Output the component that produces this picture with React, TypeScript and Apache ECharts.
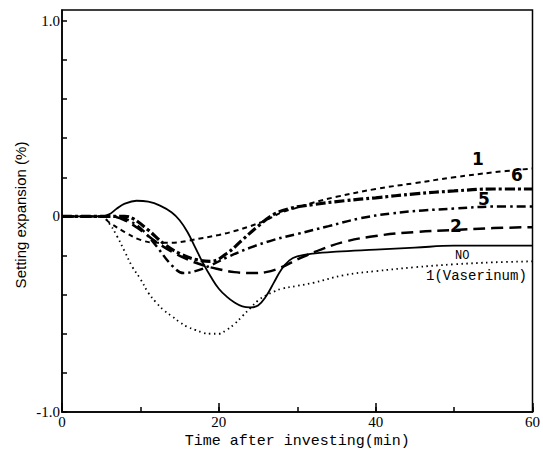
import React, { useEffect, useRef } from "react";
import * as echarts from "echarts";

const xTickLabels = ["0", "20", "40", "60"];
const yTickLabels = ["1.0", "0", "-1.0"];

const noTime = [0, 5, 6, 7, 8, 9.5, 11, 12.5, 14, 15, 16, 17, 18, 19, 20, 21, 22, 23, 24, 25, 26, 27, 28, 29, 30, 32, 35, 40, 45, 50, 55, 60];
const noValues = [0, 0, 0.01, 0.04, 0.065, 0.08, 0.075, 0.055, 0.02, -0.02, -0.08, -0.16, -0.24, -0.31, -0.37, -0.41, -0.44, -0.46, -0.465, -0.455, -0.41, -0.34, -0.27, -0.225, -0.205, -0.19, -0.18, -0.17, -0.16, -0.15, -0.15, -0.15];

const vasTime = [0, 5, 6, 7, 8, 9, 10, 11, 12, 13, 14, 15, 16, 17, 18, 19, 20, 21, 22, 23, 24, 25, 26, 27, 28, 30, 32, 36, 40, 45, 50, 55, 60];
const vasValues = [0, 0, -0.035, -0.1, -0.18, -0.26, -0.32, -0.39, -0.44, -0.48, -0.51, -0.54, -0.565, -0.58, -0.595, -0.6, -0.6, -0.58, -0.55, -0.51, -0.47, -0.43, -0.405, -0.385, -0.37, -0.355, -0.34, -0.3, -0.28, -0.26, -0.245, -0.235, -0.23];

const s1Time = [0, 5, 6, 8, 10, 12, 14, 16, 18, 20, 22, 24, 26, 28, 30, 32, 35, 40, 45, 50, 55, 60];
const s1Values = [0, 0, -0.03, -0.08, -0.12, -0.135, -0.135, -0.125, -0.11, -0.095, -0.075, -0.05, -0.02, 0.02, 0.045, 0.07, 0.1, 0.14, 0.17, 0.2, 0.225, 0.245];

const s2Time = [0, 6, 8, 10, 12, 14, 16, 18, 20, 22, 24, 26, 28, 30, 33, 36, 40, 45, 50, 55, 60];
const s2Values = [0, 0, -0.02, -0.07, -0.13, -0.18, -0.22, -0.25, -0.27, -0.285, -0.29, -0.285, -0.26, -0.22, -0.17, -0.13, -0.1, -0.08, -0.07, -0.06, -0.055];

const s5Time = [0, 7, 8, 10, 12, 14, 15.5, 17, 19, 21, 24, 27, 30, 34, 38, 42, 46, 50, 55, 60];
const s5Values = [0, 0, -0.01, -0.06, -0.15, -0.25, -0.29, -0.28, -0.25, -0.21, -0.16, -0.12, -0.09, -0.05, -0.01, 0.015, 0.03, 0.04, 0.05, 0.05];

const s6Time = [0, 7, 8, 9, 11, 13, 15, 17, 19, 21, 23, 25, 27, 29, 32, 36, 40, 45, 50, 55, 60];
const s6Values = [0, 0, 0, -0.01, -0.07, -0.14, -0.19, -0.22, -0.23, -0.19, -0.12, -0.05, 0.01, 0.04, 0.06, 0.08, 0.095, 0.115, 0.13, 0.14, 0.14];

const zip = (xs: number[], ys: number[]) => xs.map((x, i) => [x, ys[i]]);

export default function App() {
  const ref = useRef<HTMLDivElement>(null);
  useEffect(() => {
    if (!ref.current) return;
    const chart = echarts.init(ref.current, null, { renderer: "svg" });
    const line = (name: string, xs: number[], ys: number[], width: number, type: any) => ({
      name,
      type: "line",
      data: zip(xs, ys),
      smooth: 0.4,
      showSymbol: false,
      symbol: "none",
      lineStyle: { color: "#000", width, type },
      z: 3,
    });
    const serif = "'Liberation Serif', 'DejaVu Serif', serif";
    const mono = "'Liberation Mono', 'DejaVu Sans Mono', monospace";
    chart.setOption({
      animation: false,
      backgroundColor: "#fff",
      grid: { left: 62, right: 7, top: 10, bottom: 42, show: true, borderColor: "#000", borderWidth: 1.5, backgroundColor: "transparent" },
      xAxis: [
        {
          type: "value",
          min: 0,
          max: 60,
          interval: 10,
          name: "Time after investing(min)",
          nameLocation: "middle",
          nameGap: 21,
          nameTextStyle: { fontFamily: mono, fontSize: 15, color: "#000" },
          axisLine: { show: true, onZero: false, lineStyle: { color: "#000", width: 1.5 } },
          axisTick: { show: true, inside: true, length: 5, lineStyle: { color: "#000", width: 1.5 } },
          axisLabel: {
            color: "#000",
            fontFamily: serif,
            fontSize: 15,
            margin: 2,
            formatter: (v: number) => (xTickLabels.includes(String(v)) ? String(v) : ""),
          },
          splitLine: { show: false },
          z: 5,
        },
        {
          type: "value",
          min: 0,
          max: 60,
          interval: 20,
          position: "bottom",
          axisLine: { show: false, onZero: false },
          axisTick: { show: true, inside: true, length: 9, lineStyle: { color: "#000", width: 1.5 } },
          axisLabel: { show: false },
          splitLine: { show: false },
          z: 5,
        },
      ],
      yAxis: {
        type: "value",
        min: -1,
        max: 1.055,
        interval: 0.2,
        axisLine: { show: true, onZero: false, lineStyle: { color: "#000", width: 1.5 } },
        axisTick: { show: true, inside: true, length: 5, lineStyle: { color: "#000", width: 1.5 } },
        axisLabel: {
          color: "#000",
          fontFamily: serif,
          fontSize: 15,
          margin: 2,
          showMaxLabel: false,
          formatter: (v: number) => {
            const r = Math.round(v * 100) / 100;
            if (r === 1) return yTickLabels[0];
            if (r === 0) return yTickLabels[1];
            if (r === -1) return yTickLabels[2];
            return "";
          },
        },
        splitLine: { show: false },
        z: 5,
      },
      series: [
        line("NO", noTime, noValues, 1.8, "solid"),
        line("1(Vaserinum)", vasTime, vasValues, 1.8, [1.5, 3.5]),
        line("1", s1Time, s1Values, 2, [5, 4]),
        line("2", s2Time, s2Values, 2.5, [12, 6]),
        line("5", s5Time, s5Values, 2.5, [9, 4, 2.5, 4]),
        line("6", s6Time, s6Values, 3.2, [10, 3, 3, 3]),
      ],
      graphic: [
        {
          type: "text",
          x: 20,
          y: 215,
          rotation: Math.PI / 2,
          style: {
            text: "Setting expansion (%)",
            font: "15px 'Liberation Sans', 'DejaVu Sans', sans-serif",
            fill: "#000",
            align: "center",
            verticalAlign: "middle",
          },
        },
        { type: "text", left: 472, top: 150, style: { text: "1", font: "bold 17px 'DejaVu Sans', sans-serif", fill: "#000" } },
        { type: "text", left: 511, top: 166, style: { text: "6", font: "bold 17px 'DejaVu Sans', sans-serif", fill: "#000" } },
        { type: "text", left: 478, top: 190, style: { text: "5", font: "bold 17px 'DejaVu Sans', sans-serif", fill: "#000" } },
        { type: "text", left: 450, top: 217, style: { text: "2", font: "bold 17px 'DejaVu Sans', sans-serif", fill: "#000" } },
        { type: "text", left: 455, top: 250, style: { text: "NO", font: "12px 'Liberation Mono', monospace", fill: "#000" } },
        { type: "text", left: 426, top: 269, style: { text: "1(Vaserinum)", font: "14px 'Liberation Mono', monospace", fill: "#000" } },
      ],
    });
    return () => chart.dispose();
  }, []);
  return <div ref={ref} style={{ width: 543, height: 454, position: "absolute", left: 0, top: 0 }} />;
}
